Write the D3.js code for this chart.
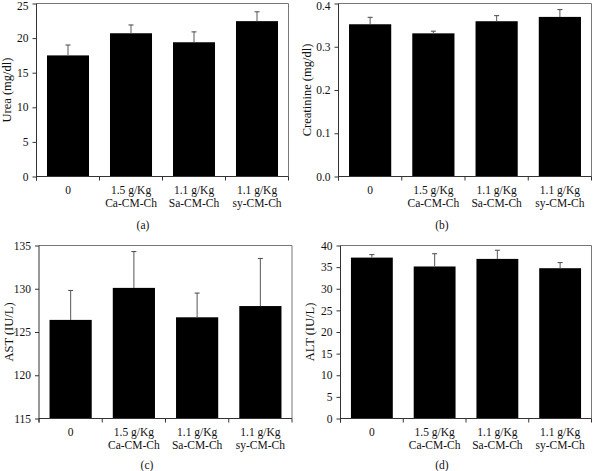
<!DOCTYPE html>
<html>
<head>
<meta charset="utf-8">
<script src="https://cdn.jsdelivr.net/npm/d3@7"></script>
<style>
  html, body { margin: 0; padding: 0; background: #fff; }
  svg { display: block; }
  text { font-family: "Liberation Serif", "Times New Roman", serif; fill: #111; }
</style>
</head>
<body>
<svg id="chart" width="594" height="471"></svg>
<script>
// ---- Data ----
const categories = [["0"], ["1.5 g/Kg", "Ca-CM-Ch"], ["1.1 g/Kg", "Sa-CM-Ch"], ["1.1 g/Kg", "sy-CM-Ch"]];

const ureaValues = [17.5, 20.7, 19.4, 22.45];
const ureaErrors = [1.5, 1.2, 1.5, 1.35];
const ureaTicks = [0, 5, 10, 15, 20, 25];

const creatinineValues = [0.352, 0.331, 0.359, 0.369];
const creatinineErrors = [0.016, 0.005, 0.013, 0.017];
const creatinineTicks = [0.0, 0.1, 0.2, 0.3, 0.4];

const astValues = [126.4, 130.1, 126.7, 128.0];
const astErrors = [3.4, 4.2, 2.8, 5.5];
const astTicks = [115, 120, 125, 130, 135];

const altValues = [37.2, 35.15, 36.9, 34.75];
const altErrors = [0.7, 2.95, 2.0, 1.3];
const altTicks = [0, 5, 10, 15, 20, 25, 30, 35, 40];

const panels = [
  { values: ureaValues, errors: ureaErrors, ticks: ureaTicks, fmt: d3.format("d"), title: "Urea (mg/dl)", caption: "(a)",
    x0: 36.5, x1: 288.5, y0: 3.5, y1: 176.5, titleX: 7, captionX: 143, captionY: 229 },
  { values: creatinineValues, errors: creatinineErrors, ticks: creatinineTicks, fmt: d3.format(".1f"), title: "Creatinine (mg/dl)", caption: "(b)",
    x0: 338.5, x1: 591.5, y0: 3.5, y1: 176.5, titleX: 307, captionX: 442, captionY: 229 },
  { values: astValues, errors: astErrors, ticks: astTicks, fmt: d3.format("d"), title: "AST (IU/L)", caption: "(c)",
    x0: 39, x1: 292, y0: 245.5, y1: 418.5, titleX: 9, captionX: 147, captionY: 469 },
  { values: altValues, errors: altErrors, ticks: altTicks, fmt: d3.format("d"), title: "ALT (IU/L)", caption: "(d)",
    x0: 340.5, x1: 591.5, y0: 245.5, y1: 418.5, titleX: 310, captionX: 442, captionY: 469 }
];

const svg = d3.select("#chart");

panels.forEach(p => {
  const g = svg.append("g");
  const x = d3.scaleBand().domain(d3.range(categories.length)).range([p.x0, p.x1])
    .paddingInner(0.333).paddingOuter(0.1665);
  const y = d3.scaleLinear().domain([p.ticks[0], p.ticks[p.ticks.length - 1]]).range([p.y1, p.y0]);

  // frame (top and right)
  g.append("path")
    .attr("d", `M${p.x0},${p.y0}H${p.x1}V${p.y1}`)
    .attr("fill", "none").attr("stroke", "#777").attr("stroke-width", 1);

  // bars
  g.selectAll("rect.bar").data(p.values).join("rect")
    .attr("class", "bar")
    .attr("x", (d, i) => x(i))
    .attr("width", x.bandwidth())
    .attr("y", d => y(d))
    .attr("height", d => y(p.ticks[0]) - y(d))
    .attr("fill", "#000");

  // error bars (upper only)
  const eg = g.selectAll("g.err").data(p.values).join("g").attr("class", "err");
  eg.append("line")
    .attr("x1", (d, i) => x(i) + x.bandwidth() / 2)
    .attr("x2", (d, i) => x(i) + x.bandwidth() / 2)
    .attr("y1", d => y(d))
    .attr("y2", (d, i) => y(d + p.errors[i]))
    .attr("stroke", "#666").attr("stroke-width", 1.1);
  eg.append("line")
    .attr("x1", (d, i) => x(i) + x.bandwidth() / 2 - 2.5)
    .attr("x2", (d, i) => x(i) + x.bandwidth() / 2 + 2.5)
    .attr("y1", (d, i) => y(d + p.errors[i]))
    .attr("y2", (d, i) => y(d + p.errors[i]))
    .attr("stroke", "#555").attr("stroke-width", 1.1);

  // y axis
  const yAxis = d3.axisLeft(y).tickValues(p.ticks).tickFormat(p.fmt).tickSize(4).tickPadding(4);
  const ya = g.append("g").attr("transform", `translate(${p.x0},0)`).call(yAxis);
  ya.select(".domain").attr("stroke", "#333").attr("d", `M0,${p.y1 + 4}V${p.y0}`);
  ya.selectAll(".tick line").attr("stroke", "#333");
  ya.selectAll(".tick text").attr("font-size", 11.5).attr("fill", "#111")
    .style("font-family", "'Liberation Serif', serif")
    .attr("dy", (d, i, n) => (y(d) < 8 ? "0.55em" : "0.32em"));

  // x axis baseline with boundary ticks
  const step = x.step();
  const bounds = d3.range(categories.length + 1).map(i => p.x0 + i * step);
  g.append("line").attr("x1", p.x0).attr("x2", p.x1).attr("y1", p.y1).attr("y2", p.y1)
    .attr("stroke", "#333");
  g.selectAll("line.bt").data(bounds).join("line").attr("class", "bt")
    .attr("x1", d => d).attr("x2", d => d)
    .attr("y1", p.y1).attr("y2", p.y1 + 4)
    .attr("stroke", "#333");

  // category labels
  const cl = g.selectAll("text.cat").data(categories).join("text").attr("class", "cat")
    .attr("text-anchor", "middle").attr("font-size", 11.5)
    .attr("transform", (d, i) => `translate(${x(i) + x.bandwidth() / 2},${p.y1 + 17})`);
  cl.selectAll("tspan").data(d => d).join("tspan")
    .attr("x", 0).attr("dy", (d, j) => j === 0 ? 0 : 13.5).text(d => d);

  // y title
  g.append("text")
    .attr("transform", `translate(${p.titleX},${(p.y0 + p.y1) / 2}) rotate(-90)`)
    .attr("text-anchor", "middle").attr("dominant-baseline", "central")
    .attr("font-size", 12.5).text(p.title);

  // caption
  g.append("text").attr("x", p.captionX).attr("y", p.captionY)
    .attr("text-anchor", "middle").attr("font-size", 11.5).text(p.caption);
});
</script>
</body>
</html>
